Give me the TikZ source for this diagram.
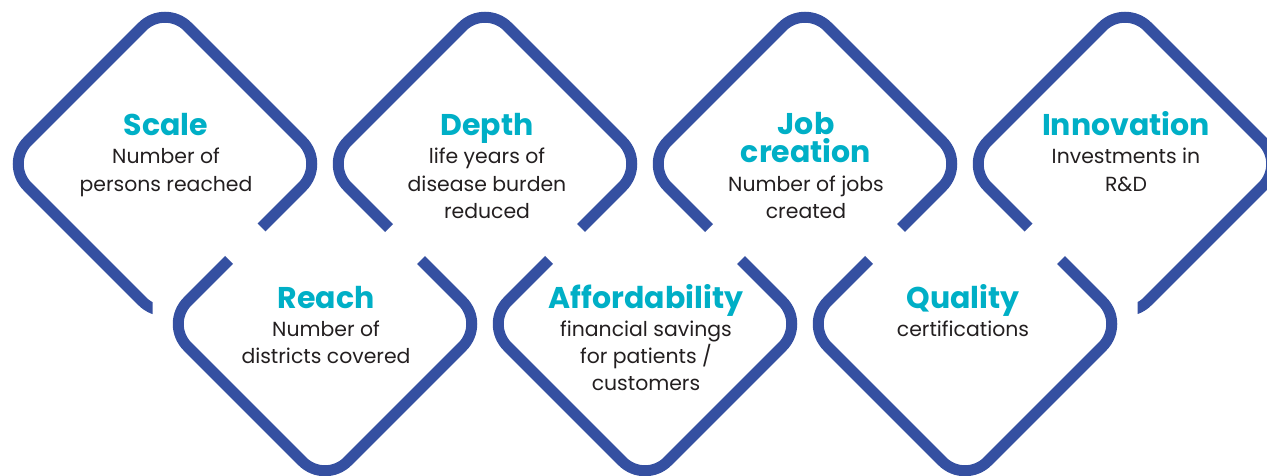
\documentclass[tikz,border=0pt]{standalone}
\usepackage{fontspec}
\setmainfont{Poppins}
\definecolor{dblue}{HTML}{3550A1}
\definecolor{tealc}{HTML}{00AFC6}
\definecolor{txt}{HTML}{231F20}
\begin{document}
\begin{tikzpicture}[x=1pt,y=-1pt,
  dia/.style={draw=dblue,line width=11pt,rounded corners=32pt},
  ttl/.style={anchor=base,inner sep=0pt,text=tealc,font=\fontsize{30}{28}\selectfont\bfseries},
  bdy/.style={anchor=base,inner sep=0pt,text=txt,font=\fontsize{20.4}{27.2}\selectfont}]
\useasboundingbox (0,0) rectangle (1267,476);
\clip (0,0) rectangle (1267,476);
% ---------- top row ----------
% Scale
\begin{scope}
  \clip (-10,-10) -- (600,-10) -- (600,566) -- (152.5,118.5) -- (152.5,600) -- (-10,600) -- cycle;
  \draw[dia] (245,84) -- (325,164) -- (165,324) -- (5,164) -- (165,4) -- cycle;
\end{scope}
% Depth
\begin{scope}
  \clip (185,432) -- (485,132) -- (785,432) -- (785,-300) -- (185,-300) -- cycle;
  \draw[dia] (565,84) -- (645,164) -- (485,324) -- (325,164) -- (485,4) -- cycle;
\end{scope}
% Job creation
\begin{scope}
  \clip (505,432) -- (805,132) -- (1105,432) -- (1105,-300) -- (505,-300) -- cycle;
  \draw[dia] (885,84) -- (965,164) -- (805,324) -- (645,164) -- (805,4) -- cycle;
\end{scope}
% Innovation
\begin{scope}
  \clip (1400,-10) -- (700,-10) -- (700,556) -- (1137.5,118.5) -- (1137.5,600) -- (1400,600) -- cycle;
  \draw[dia] (1205,84) -- (1285,164) -- (1125,324) -- (965,164) -- (1125,4) -- cycle;
\end{scope}
% ---------- bottom row ----------
% Reach
\begin{scope}
  \clip (25,56) -- (325,356) -- (625,56) -- (625,700) -- (25,700) -- cycle;
  \draw[dia] (405,404) -- (325,484) -- (165,324) -- (325,164) -- (485,324) -- cycle;
\end{scope}
% Affordability
\begin{scope}
  \clip (345,56) -- (645,356) -- (945,56) -- (945,700) -- (345,700) -- cycle;
  \draw[dia] (725,404) -- (645,484) -- (485,324) -- (645,164) -- (805,324) -- cycle;
\end{scope}
% Quality
\begin{scope}
  \clip (665,56) -- (965,356) -- (1265,56) -- (1265,700) -- (665,700) -- cycle;
  \draw[dia] (1045,404) -- (965,484) -- (805,324) -- (965,164) -- (1125,324) -- cycle;
\end{scope}
% ---------- texts ----------
\node[ttl] (scaleT) at (166,136) {Scale};
\node[bdy] (scaleB) at (166,164) {\begin{tabular}[t]{@{}c@{}}Number of\\persons reached\end{tabular}};
\node[ttl] (depthT) at (487,136) {Depth};
\node[bdy] (depthB) at (487,164) {\begin{tabular}[t]{@{}c@{}}life years of\\disease burden\\reduced\end{tabular}};
\node[ttl] (jobT) at (806,135) {Job};
\node[ttl] (jobT2) at (806,163) {creation};
\node[bdy] (jobB) at (806,191) {\begin{tabular}[t]{@{}c@{}}Number of jobs\\created\end{tabular}};
\node[ttl] (innoT) at (1126,136) {Innovation};
\node[bdy] (innoB) at (1126,164) {\begin{tabular}[t]{@{}c@{}}Investments in\\R\&D\end{tabular}};
\node[ttl] (reachT) at (326,308) {Reach};
\node[bdy] (reachB) at (326,336) {\begin{tabular}[t]{@{}c@{}}Number of\\districts covered\end{tabular}};
\node[ttl] (affT) at (646,308) {Affordability};
\node[bdy] (affB) at (646,336) {\begin{tabular}[t]{@{}c@{}}financial savings\\for patients /\\customers\end{tabular}};
\node[ttl] (qualT) at (963,308) {Quality};
\node[bdy] (qualB) at (963,336) {\begin{tabular}[t]{@{}c@{}}certifications\end{tabular}};
\end{tikzpicture}
\end{document}
